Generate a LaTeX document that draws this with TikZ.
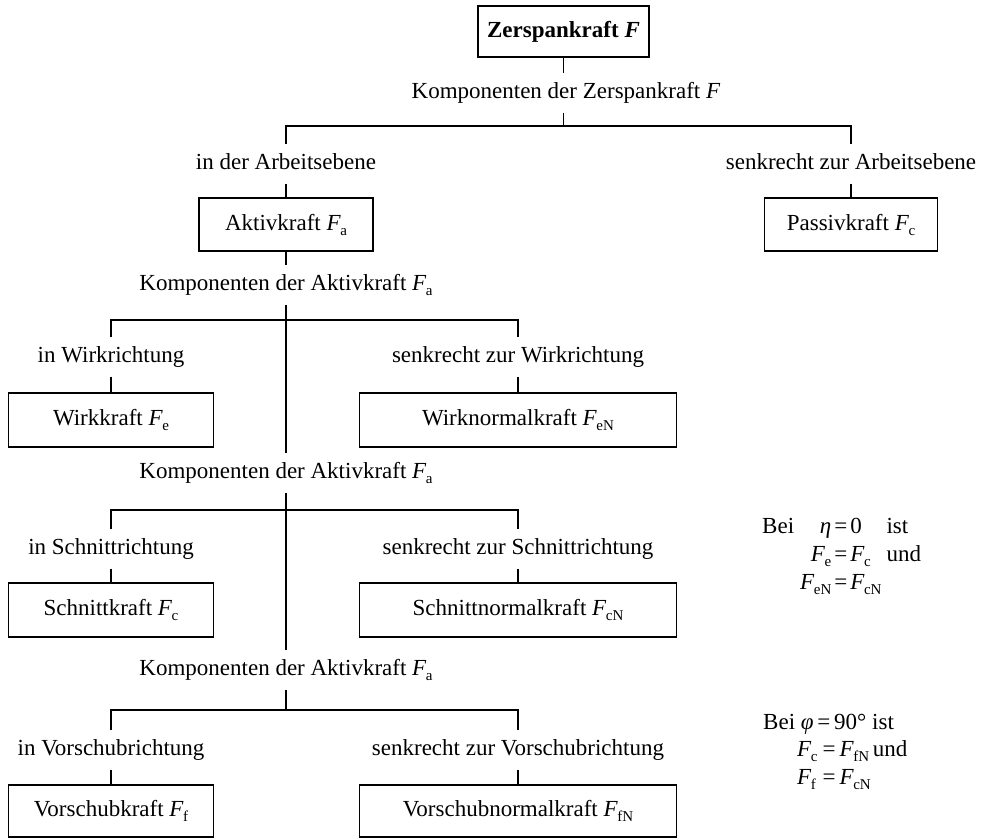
\documentclass[tikz,border=0pt]{standalone}
\usepackage{fontspec}
\setmainfont{Liberation Serif}
\newcommand\Fx[1]{\textit{F}\kern-0.5pt\raisebox{-5pt}{\fontsize{15}{15}\selectfont #1}}
\begin{document}
\begin{tikzpicture}[x=1pt,y=-1pt,
  every node/.style={font=\fontsize{23}{28}\selectfont, text height=16pt, text depth=5pt},
  txt/.style={inner xsep=0pt, inner ysep=9pt},
  box/.style={draw, line width=1.4pt, inner sep=0pt},
  topbox/.style={draw, line width=2.8pt, inner sep=0pt, minimum width=171pt, minimum height=51pt},
  conn/.style={line width=1.4pt},
  note/.style={text height=, text depth=, inner sep=0pt, anchor=west}
]
\useasboundingbox (0,0) rectangle (986,838);

% top level
\node[topbox] (top) at (563.5,31.5) {\textbf{Zerspankraft \textit{F}}};
\node[txt] (k0) at (566,93) {Komponenten der Zerspankraft \textit{F}};
\coordinate (h0) at (563.5,126);
\node[txt] (lA) at (286,164) {in der Arbeitsebene};
\node[txt] (lP) at (851,164) {senkrecht zur Arbeitsebene};
\node[box, minimum width=174pt, minimum height=53pt] (bA) at (286,224.5) {Aktivkraft \Fx{a}};
\node[box, minimum width=173pt, minimum height=53pt] (bP) at (851,224.5) {Passivkraft \Fx{c}};

% level 1
\node[txt] (k1) at (286,285) {Komponenten der Aktivkraft \Fx{a}};
\coordinate (j1) at (286,320);
\node[txt] (lW) at (111,357) {in Wirkrichtung};
\node[txt] (lWN) at (518,357) {senkrecht zur Wirkrichtung};
\node[box, minimum width=205pt, minimum height=54pt] (bW) at (111,420) {Wirkkraft \Fx{e}};
\node[box, minimum width=317pt, minimum height=54pt] (bWN) at (518,420) {Wirknormalkraft \Fx{eN}};

% level 2
\node[txt] (k2) at (286,473) {Komponenten der Aktivkraft \Fx{a}};
\coordinate (j2) at (286,510);
\node[txt] (lS) at (111,549) {in Schnittrichtung};
\node[txt] (lSN) at (518,549) {senkrecht zur Schnittrichtung};
\node[box, minimum width=205pt, minimum height=54pt] (bS) at (111,610) {Schnittkraft \Fx{c}};
\node[box, minimum width=317pt, minimum height=54pt] (bSN) at (518,610) {Schnittnormalkraft \Fx{cN}};

% level 3
\node[txt] (k3) at (286,670) {Komponenten der Aktivkraft \Fx{a}};
\coordinate (j3) at (286,710);
\node[txt] (lV) at (111,750) {in Vorschubrichtung};
\node[txt] (lVN) at (518,750) {senkrecht zur Vorschubrichtung};
\node[box, minimum width=205pt, minimum height=52pt] (bV) at (111,811) {Vorschubkraft \Fx{f}};
\node[box, minimum width=317pt, minimum height=52pt] (bVN) at (518,811) {Vorschubnormalkraft \Fx{fN}};

% notes
\node[note] (n1) at (762,556) {\begin{tabular}{@{}l@{\hspace{6pt}}r@{\hspace{3pt}=\hspace{3pt}}l@{\hspace{5pt}}l@{}}
Bei & \textit{η} & 0 & ist\\[0pt]
 & \Fx{e} & \Fx{c} & und\\[0pt]
 & \Fx{eN} & \Fx{cN} & \\
\end{tabular}};
\node[note] (n2) at (763,724) {Bei \textit{φ}\,=\,90° ist};
\node[note] (n3) at (797,765) {\begin{tabular}{@{}l@{\hspace{5pt}=\hspace{4pt}}l@{\hspace{2pt}}l@{}}
\Fx{c} & \Fx{fN} & und\\[0pt]
\Fx{f} & \Fx{cN} & \\
\end{tabular}};

% connectors
\draw[conn] (top.south) -- (top.south |- k0.north);
\draw[conn] (k0.south -| h0) -- (h0);
\draw[conn] (lA.north) |- (h0) -| (lP.north);
\draw[conn] (lA.south) -- (bA.north);
\draw[conn] (lP.south) -- (bP.north);
\draw[conn] (bA.south) -- (k1.north);

\draw[conn] (k1.south) -- (k2.north);
\draw[conn] (lW.north) |- (j1) -| (lWN.north);
\draw[conn] (lW.south) -- (bW.north);
\draw[conn] (lWN.south) -- (bWN.north);

\draw[conn] (k2.south) -- (k3.north);
\draw[conn] (lS.north) |- (j2) -| (lSN.north);
\draw[conn] (lS.south) -- (bS.north);
\draw[conn] (lSN.south) -- (bSN.north);

\draw[conn] (k3.south) -- (j3);
\draw[conn] (lV.north) |- (j3) -| (lVN.north);
\draw[conn] (lV.south) -- (bV.north);
\draw[conn] (lVN.south) -- (bVN.north);
\end{tikzpicture}
\end{document}
